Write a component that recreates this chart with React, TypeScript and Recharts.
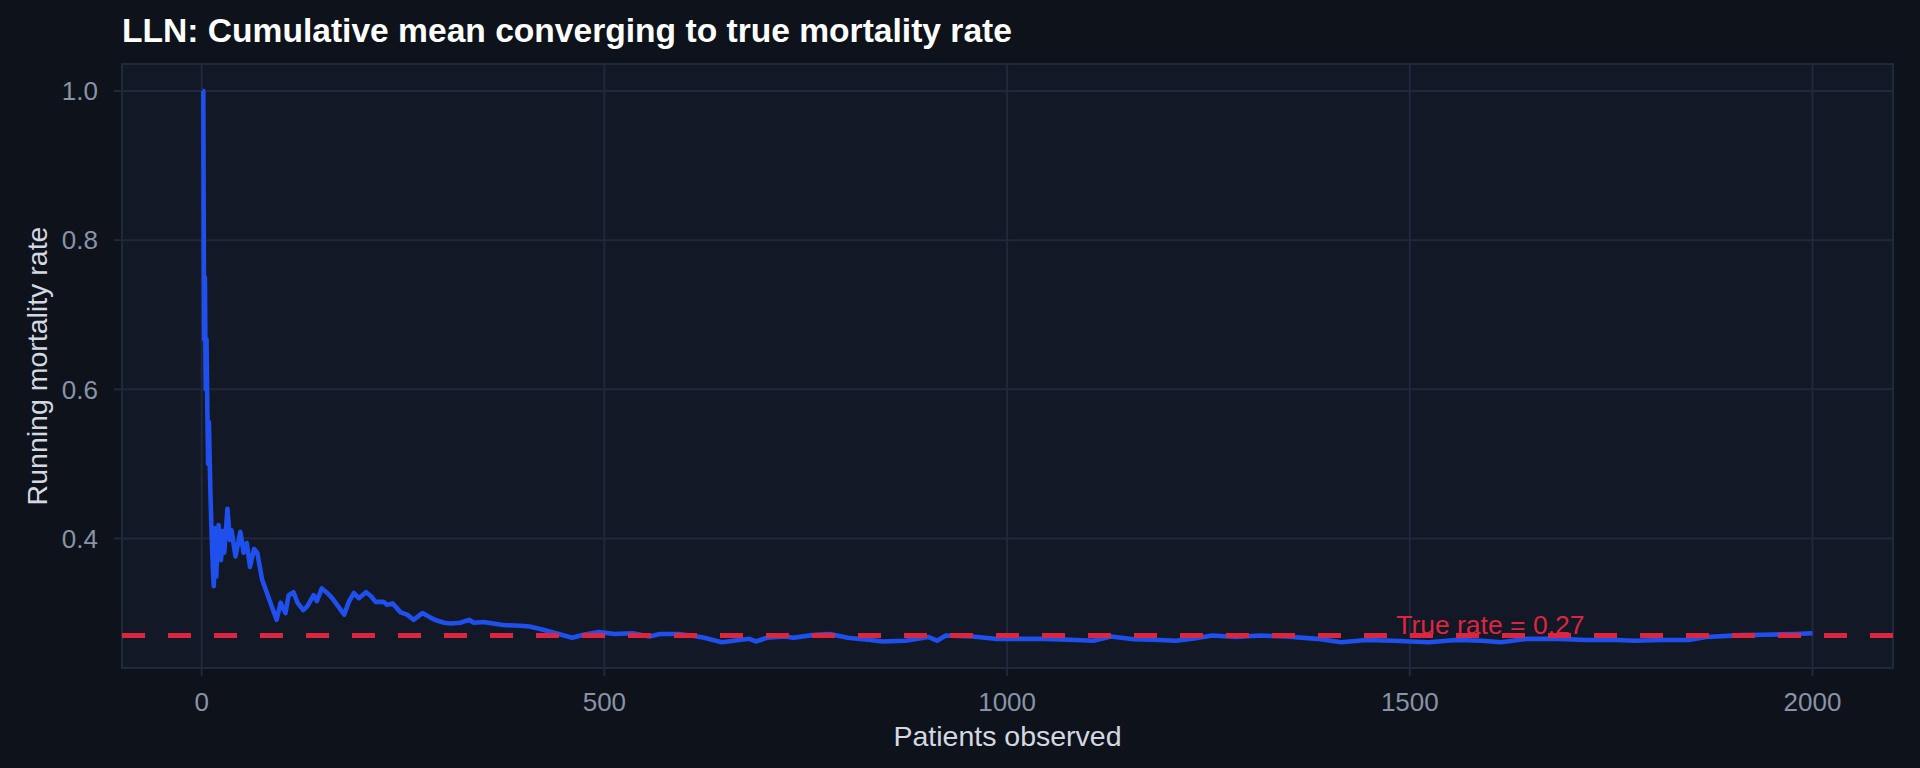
import React from "react";
import { LineChart, Line, XAxis, YAxis, CartesianGrid, ReferenceLine, ReferenceArea, ReferenceDot, Label } from "recharts";

// running mean of observed mortality
const patients = [
  1, 2, 3, 4, 5, 6, 7, 8, 9, 10, 11, 12, 13, 14, 15, 17, 18, 21, 24, 26, 28, 32, 35, 37, 42, 48, 52, 56, 60, 65, 69,
  75, 84, 93, 98, 104, 108, 114, 119, 126, 131, 139, 143, 149, 156, 162, 177, 183, 189, 195, 204, 210, 216, 226, 230,
  237, 247, 255, 263, 274, 284, 292, 301, 309, 321, 332, 338, 350, 374, 396, 407, 424, 440, 460, 474, 493, 513, 535,
  556, 569, 591, 608, 624, 646, 660, 680, 688, 702, 724, 735, 758, 780, 802, 830, 846, 874, 902, 913, 924, 957, 985,
  1013, 1046, 1085, 1107, 1129, 1157, 1190, 1210, 1230, 1255, 1285, 1313, 1346, 1385, 1415, 1446, 1479, 1524, 1557,
  1590, 1613, 1646, 1685, 1718, 1757, 1779, 1812, 1846, 1868, 1912, 1940, 1979, 2000,
];
const runningRate = [
  1.0, 1.0, 0.667, 0.75, 0.6, 0.667, 0.571, 0.5, 0.556, 0.5, 0.455, 0.417, 0.385, 0.357, 0.336, 0.414, 0.349, 0.418,
  0.371, 0.41, 0.381, 0.44, 0.398, 0.411, 0.376, 0.409, 0.381, 0.394, 0.362, 0.386, 0.381,
  0.345, 0.318, 0.291, 0.314, 0.3, 0.324, 0.328, 0.314, 0.304, 0.309, 0.324, 0.316, 0.333, 0.327, 0.32, 0.298, 0.316,
  0.327, 0.32, 0.328, 0.323, 0.315, 0.315, 0.311,
  0.313, 0.301, 0.298, 0.291, 0.3, 0.294, 0.29, 0.287, 0.286, 0.287, 0.291, 0.287, 0.288, 0.284, 0.283, 0.282, 0.2776,
  0.273, 0.267, 0.271, 0.2745, 0.272, 0.273,
  0.2687, 0.272, 0.272, 0.27, 0.267, 0.261, 0.263, 0.2655, 0.262, 0.267, 0.2687, 0.267, 0.2705, 0.272, 0.267, 0.264,
  0.262, 0.263, 0.268, 0.263, 0.27, 0.2687, 0.2655,
  0.2655, 0.2655, 0.264, 0.263, 0.2687, 0.265, 0.264, 0.263, 0.2655, 0.27, 0.268, 0.27, 0.2687, 0.2655, 0.261, 0.264,
  0.263, 0.261, 0.264,
  0.263, 0.261, 0.2655, 0.2655, 0.264, 0.264, 0.263, 0.264, 0.264, 0.268, 0.2705, 0.271, 0.272, 0.273,
];

const xTicks = [0, 500, 1000, 1500, 2000];
const yTicks = [0.4, 0.6, 0.8, 1.0];
const trueRate = 0.27;
const trueRateLabel = "True rate = 0.27";
const trueRateLabelAt = 1600;

const chartTitle = "LLN: Cumulative mean converging to true mortality rate";
const xTitle = "Patients observed";
const yTitle = "Running mortality rate";

const FONT = '"Liberation Sans", Arial, Helvetica, sans-serif';
const BG = "#0e121b";
const PANEL = "#121826";
const GRID = "#1e293b";
const TICK = "#8893a7";
const AXIS_TITLE = "#d3d8e1";
const BLUE = "#1f4fec";
const RED = "#dc2640";

const data = patients.map((n, i) => ({ n, rate: runningRate[i] }));

// ggplot-style 5% expansion around 1..2000 and 0.264..1.0
const xDomain = [-98.95, 2099.95];
const yDomain = [0.2264, 1.0362];

function XTitle({ viewBox }: any) {
  const { x, y, width } = viewBox;
  return (
    <text x={x + width / 2} y={y + 78} textAnchor="middle" fill={AXIS_TITLE} fontSize={28.5} fontFamily={FONT}>
      {xTitle}
    </text>
  );
}

function YTitle({ viewBox }: any) {
  const { y, height } = viewBox;
  const cx = 47;
  const cy = y + height / 2;
  return (
    <text x={cx} y={cy} transform={`rotate(-90, ${cx}, ${cy})`} textAnchor="middle" fill={AXIS_TITLE} fontSize={28.5} fontFamily={FONT}>
      {yTitle}
    </text>
  );
}

export default function App() {
  return (
    <div style={{ position: "absolute", left: 0, top: 0, width: 1920, height: 768, background: BG }}>
      <svg width={1920} height={60} style={{ position: "absolute", left: 0, top: 0 }}>
        <text x={122} y={41.7} fill="#ffffff" fontSize={33.6} fontWeight="bold" fontFamily={FONT}>
          {chartTitle}
        </text>
      </svg>
      <LineChart width={1920} height={768} data={data} margin={{ top: 64, right: 27, bottom: 0, left: 0 }}>
        <CartesianGrid stroke={GRID} strokeWidth={2} fill={PANEL} />
        <ReferenceArea x1={xDomain[0]} x2={xDomain[1]} y1={yDomain[0]} y2={yDomain[1]} fill="none" stroke={GRID} strokeWidth={2} ifOverflow="visible" />
        <XAxis
          type="number"
          dataKey="n"
          domain={xDomain}
          ticks={xTicks}
          allowDataOverflow
          height={100}
          axisLine={false}
          tickLine={{ stroke: GRID, strokeWidth: 2 }}
          tickSize={8}
          tickMargin={17}
          tick={{ fill: TICK, fontSize: 26, fontFamily: FONT }}
          label={<XTitle />}
        />
        <YAxis
          type="number"
          domain={yDomain}
          ticks={yTicks}
          allowDataOverflow
          width={122}
          axisLine={false}
          tickLine={{ stroke: GRID, strokeWidth: 2 }}
          tickSize={8}
          tickMargin={16}
          tickFormatter={(v: number) => v.toFixed(1)}
          tick={{ fill: TICK, fontSize: 26, fontFamily: FONT }}
          label={<YTitle />}
        />
        <Line
          type="linear"
          dataKey="rate"
          stroke={BLUE}
          strokeWidth={4.6}
          strokeLinejoin="round"
          dot={false}
          activeDot={false}
          isAnimationActive={false}
        />
        <ReferenceLine y={trueRate} stroke={RED} strokeWidth={5} strokeDasharray="23 23" />
        <ReferenceDot x={trueRateLabelAt} y={trueRate} r={0} fill="none" stroke="none">
          <Label value={trueRateLabel} position="top" offset={1} fill={RED} fontSize={26.5} fontFamily={FONT} />
        </ReferenceDot>
      </LineChart>
    </div>
  );
}
